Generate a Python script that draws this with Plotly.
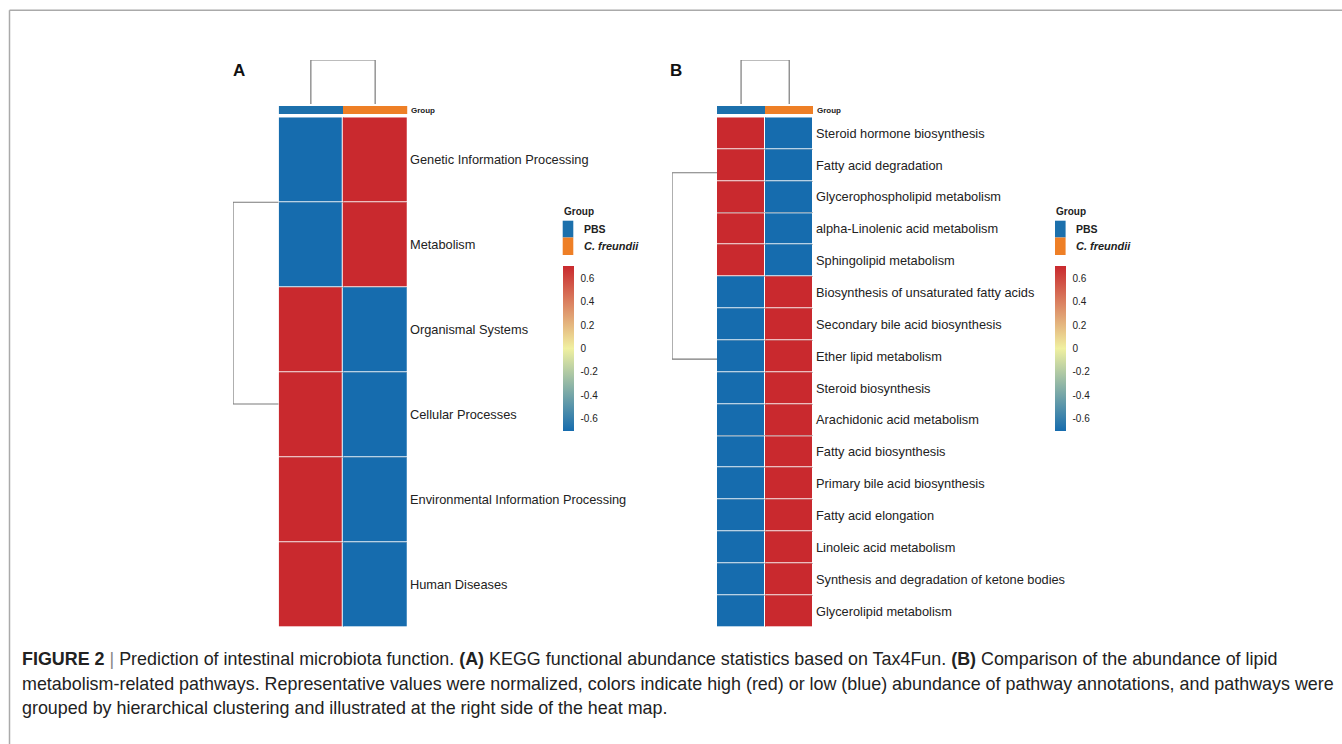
import plotly.graph_objects as go

W, H = 1342, 744

# ---------------- data ----------------
groups = ["PBS", "C. freundii"]
rows_A = ["Genetic Information Processing", "Metabolism", "Organismal Systems",
          "Cellular Processes", "Environmental Information Processing", "Human Diseases"]
vals_A_pbs = [-0.7071, -0.7071, 0.7071, 0.7071, 0.7071, 0.7071]
vals_A_cf = [0.7071, 0.7071, -0.7071, -0.7071, -0.7071, -0.7071]

rows_B = ["Steroid hormone biosynthesis", "Fatty acid degradation", "Glycerophospholipid metabolism",
          "alpha-Linolenic acid metabolism", "Sphingolipid metabolism",
          "Biosynthesis of unsaturated fatty acids", "Secondary bile acid biosynthesis",
          "Ether lipid metabolism", "Steroid biosynthesis", "Arachidonic acid metabolism",
          "Fatty acid biosynthesis", "Primary bile acid biosynthesis", "Fatty acid elongation",
          "Linoleic acid metabolism", "Synthesis and degradation of ketone bodies",
          "Glycerolipid metabolism"]
vals_B_pbs = [0.7071] * 5 + [-0.7071] * 11
vals_B_cf = [-0.7071] * 5 + [0.7071] * 11

# dendrogram nodes (positions in row / column units, merge heights)
rowA_cluster_pos = [0.5, 2.875]
rowB_cluster_pos = [1.24, 7.09]
row_merge_height = 1.0
col_merge_height = 1.0

cb_ticks = [0.6, 0.4, 0.2, 0, -0.2, -0.4, -0.6]
cb_ticktext = ["0.6", "0.4", "0.2", "0", "-0.2", "-0.4", "-0.6"]

# ---------------- styles ----------------
RED = "rgb(201,41,46)"
BLUE = "rgb(22,108,174)"
GRP_BLUE = "rgb(28,112,172)"
GRP_ORANGE = "rgb(238,127,38)"
cscale = [[0, BLUE], [0.5, "rgb(240,240,160)"], [1, RED]]
grp_scale = [[0, GRP_BLUE], [0.5, GRP_BLUE], [0.5, GRP_ORANGE], [1, GRP_ORANGE]]
FONT = "Liberation Sans, Arial, sans-serif"
LINE = "#7a7a7a"
GRID = "#c4c4c4"


def px(x):
    return x / W


def py(y):
    return 1 - y / H


fig = go.Figure()

hidden = dict(visible=False, showgrid=False, zeroline=False, fixedrange=True)


def grid_axis(vals):
    return dict(visible=True, showgrid=True, gridcolor=GRID, gridwidth=1, tickvals=vals,
                showticklabels=False, ticks="", showline=False, zeroline=False, fixedrange=True)


panels = [
    dict(rows=rows_A, pbs=vals_A_pbs, cf=vals_A_cf, x0=278.7, x1=407.3, dx0=233,
         cpos=rowA_cluster_pos, cbx=562.7, ax=["", "2", "3", "4", "5", "6", "7", "8"],
         letter="A", lx=238.5),
    dict(rows=rows_B, pbs=vals_B_pbs, cf=vals_B_cf, x0=717, x1=813.3, dx0=672,
         cpos=rowB_cluster_pos, cbx=1055, ax=["9", "10", "11", "12", "13", "14", "15", "16"],
         letter="B", lx=675.5),
]

layout_axes = {}
annotations = []
shapes = []

for p in panels:
    hx, hy, gx, gy, cdx, cdy, rdx, rdy = p["ax"]
    n = len(p["rows"])
    top, bot = 117.3, 627
    # heatmap
    z = [[a, b] for a, b in zip(p["pbs"], p["cf"])]
    fig.add_trace(go.Heatmap(
        z=z, x=[0, 1], y=list(range(n)), colorscale=cscale, zmin=-0.7071, zmax=0.7071,
        xgap=1, ygap=1, xaxis="x" + hx, yaxis="y" + hy, hoverinfo="skip",
        colorbar=dict(x=px(p["cbx"]), xanchor="left", y=py(266), yanchor="top",
                      len=164.7, lenmode="pixels", thickness=10.6, thicknessmode="pixels",
                      outlinewidth=0, xpad=0, ypad=0, tickvals=cb_ticks, ticktext=cb_ticktext,
                      ticks="outside", ticklen=5, tickcolor="rgba(0,0,0,0)",
                      tickfont=dict(family=FONT, size=10, color="#222"))))
    layout_axes["xaxis" + hx] = dict(domain=[px(p["x0"]), px(p["x1"])], range=[-0.5, 1.5],
                                     anchor="y" + hy, **grid_axis([0.5]))
    layout_axes["yaxis" + hy] = dict(domain=[py(bot), py(top)], range=[n - 0.5, -0.5],
                                     anchor="x" + hx, **grid_axis([k + 0.5 for k in range(n - 1)]))
    # group bar
    fig.add_trace(go.Heatmap(z=[[0, 1]], x=[0, 1], y=[0], colorscale=grp_scale, zmin=0, zmax=1,
                             showscale=False, xaxis="x" + gx, yaxis="y" + gy, hoverinfo="skip"))
    layout_axes["xaxis" + gx] = dict(domain=[px(p["x0"]), px(p["x1"])], range=[-0.5, 1.5],
                                     anchor="y" + gy, **hidden)
    layout_axes["yaxis" + gy] = dict(domain=[py(114.3), py(106)], range=[-0.5, 0.5],
                                     anchor="x" + gx, **hidden)
    # column dendrogram
    fig.add_trace(go.Scatter(x=[0, 0, 1, 1], y=[0, col_merge_height, col_merge_height, 0],
                             mode="lines", line=dict(color=LINE, width=1.2),
                             xaxis="x" + cdx, yaxis="y" + cdy, hoverinfo="skip", showlegend=False))
    layout_axes["xaxis" + cdx] = dict(domain=[px(p["x0"]), px(p["x1"])], range=[-0.5, 1.5],
                                      anchor="y" + cdy, **hidden)
    layout_axes["yaxis" + cdy] = dict(domain=[py(104), py(60)], range=[0, col_merge_height],
                                      anchor="x" + cdx, **hidden)
    # row dendrogram
    c1, c2 = p["cpos"]
    fig.add_trace(go.Scatter(x=[0, row_merge_height, row_merge_height, 0], y=[c1, c1, c2, c2],
                             mode="lines", line=dict(color=LINE, width=1.2),
                             xaxis="x" + rdx, yaxis="y" + rdy, hoverinfo="skip", showlegend=False))
    layout_axes["xaxis" + rdx] = dict(domain=[px(p["dx0"]), px(p["x0"])], range=[row_merge_height, 0],
                                      anchor="y" + rdy, **hidden)
    layout_axes["yaxis" + rdy] = dict(domain=[py(bot), py(top)], range=[n - 0.5, -0.5],
                                      anchor="x" + rdx, **hidden)
    # row labels
    for i, lab in enumerate(p["rows"]):
        annotations.append(dict(text=lab, x=1, xref="x" + hx + " domain", xanchor="left", xshift=1,
                                y=i, yref="y" + hy, yanchor="middle", showarrow=False,
                                font=dict(family=FONT, size=12.8, color="#222")))
    annotations.append(dict(text="<b>Group</b>", x=1, xref="x" + gx + " domain", xanchor="left",
                            xshift=2, y=0.5, yref="y" + gy + " domain", yanchor="middle",
                            showarrow=False, font=dict(family=FONT, size=8, color="#222")))
    # panel letter
    annotations.append(dict(text="<b>%s</b>" % p["letter"], x=px(p["lx"]), y=py(70), xref="paper",
                            yref="paper", xanchor="center", yanchor="middle", showarrow=False,
                            font=dict(family=FONT, size=17, color="#111")))
    # group legend
    lx0 = p["cbx"]
    annotations.append(dict(text="<b>Group</b>", x=px(lx0 - 1), y=py(211), xref="paper", yref="paper",
                            xanchor="left", yanchor="middle", showarrow=False,
                            font=dict(family=FONT, size=10, color="#222")))
    shapes.append(dict(type="rect", xref="paper", yref="paper", x0=px(lx0), x1=px(lx0 + 10.6),
                       y0=py(237.5), y1=py(220.7), fillcolor=GRP_BLUE, line=dict(width=0)))
    shapes.append(dict(type="rect", xref="paper", yref="paper", x0=px(lx0), x1=px(lx0 + 10.6),
                       y0=py(255), y1=py(237.5), fillcolor=GRP_ORANGE, line=dict(width=0)))
    annotations.append(dict(text="<b>PBS</b>", x=px(lx0 + 19), y=py(229), xref="paper", yref="paper",
                            xanchor="left", yanchor="middle", showarrow=False,
                            font=dict(family=FONT, size=10.5, color="#222")))
    annotations.append(dict(text="<b><i>C. freundii</i></b>", x=px(lx0 + 19), y=py(246), xref="paper",
                            yref="paper", xanchor="left", yanchor="middle", showarrow=False,
                            font=dict(family=FONT, size=11, color="#222")))

# frame lines
shapes.append(dict(type="line", xref="paper", yref="paper", x0=px(9.5), x1=1, y0=py(10.3), y1=py(10.3),
                   line=dict(color="#aaaaaa", width=1.5)))
shapes.append(dict(type="line", xref="paper", yref="paper", x0=px(9.5), x1=px(9.5), y0=py(10.3), y1=0,
                   line=dict(color="#aaaaaa", width=1.5)))

# caption
CAP_FONT = "Liberation Sans, Arial, sans-serif"
caption = [
    "<b>FIGURE 2</b> <span style='color:#888'>|</span> Prediction of intestinal microbiota function. "
    "<b>(A)</b> KEGG functional abundance statistics based on Tax4Fun. <b>(B)</b> Comparison of the "
    "abundance of lipid",
    "metabolism-related pathways. Representative values were normalized, colors indicate high (red) or "
    "low (blue) abundance of pathway annotations, and pathways were",
    "grouped by hierarchical clustering and illustrated at the right side of the heat map.",
]
for k, (txt, yy) in enumerate(zip(caption, [659, 684, 708])):
    annotations.append(dict(text=txt, x=px(20), y=py(yy), xref="paper", yref="paper", xanchor="left",
                            yanchor="middle", showarrow=False,
                            font=dict(family=CAP_FONT, size=17.9, color="#222")))

fig.update_layout(width=W, height=H, margin=dict(l=0, r=0, t=0, b=0),
                  paper_bgcolor="white", plot_bgcolor="white", showlegend=False,
                  annotations=annotations, shapes=shapes, **layout_axes)

fig.write_html("out.html", config={"displayModeBar": False},
               post_script="document.body.style.margin='0px';")
